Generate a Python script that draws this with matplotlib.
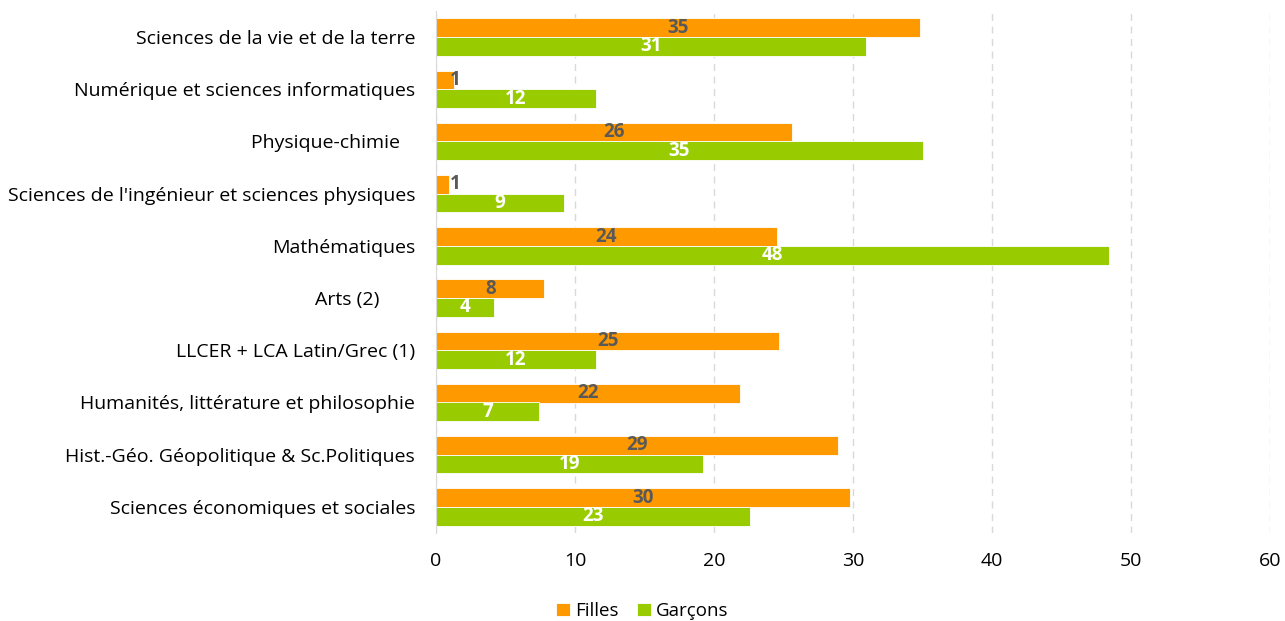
import numpy as np
import matplotlib.pyplot as plt

plt.rcParams['font.family'] = ['Open Sans', 'DejaVu Sans']

Orange = '#FF9900'
Green = '#99CC00'

categories = [
    "Sciences de la vie et de la terre",
    "Numérique et sciences informatiques",
    "Physique-chimie   ",
    "Sciences de l'ingénieur et sciences physiques",
    "Mathématiques",
    "Arts (2)       ",
    "LLCER + LCA Latin/Grec (1)",
    "Humanités, littérature et philosophie",
    "Hist.-Géo. Géopolitique & Sc.Politiques",
    "Sciences économiques et sociales",
]
filles = np.array([34.8, 1.3, 25.6, 0.9, 24.5, 7.8, 24.7, 21.9, 28.9, 29.8])
garcons = np.array([30.9, 11.5, 35.0, 9.2, 48.4, 4.2, 11.5, 7.4, 19.2, 22.6])

fig = plt.figure(figsize=(12.85, 6.21), dpi=100)
ax = fig.add_axes([436/1285, 88/621, (1270-436)/1285, (610-88)/621])

y = np.arange(len(categories))
h = 0.36
ax.barh(y - h/2, filles, height=h, color=Orange, edgecolor='white', linewidth=0.6, label='Filles')
ax.barh(y + h/2, garcons, height=h, color=Green, edgecolor='white', linewidth=0.6, label='Garçons')

# data labels
for yi, v in zip(y, filles):
    ax.text(max(v/2, 1.4), yi - h/2, f'{v:.0f}', ha='center', va='center',
            color='#595959', fontsize=13.5, fontweight='bold')
for yi, v in zip(y, garcons):
    ax.text(max(v/2, 1.4), yi + h/2, f'{v:.0f}', ha='center', va='center',
            color='white', fontsize=13.5, fontweight='bold')

ax.set_yticks(y)
ax.set_yticklabels(categories, fontsize=14)
ax.set_ylim(len(categories) - 0.5, -0.5)
ax.set_xlim(0, 60)
ax.set_xticks(np.arange(0, 61, 10))
ax.tick_params(axis='x', labelsize=14, length=0, pad=14)
ax.tick_params(axis='y', length=0, pad=15)
ax.grid(axis='x', linestyle=(0, (5, 4)), color='#D9D9D9', linewidth=1)
ax.set_axisbelow(True)
for s in ['top', 'right', 'bottom']:
    ax.spines[s].set_visible(False)
ax.spines['left'].set_color('#D9D9D9')

fig.legend(loc='lower center', bbox_to_anchor=(0.5, -0.025), ncol=2, frameon=False,
           fontsize=13.5, handlelength=0.7, handleheight=0.7, columnspacing=1.0, handletextpad=0.3)

fig.savefig('out.png', dpi=100)
